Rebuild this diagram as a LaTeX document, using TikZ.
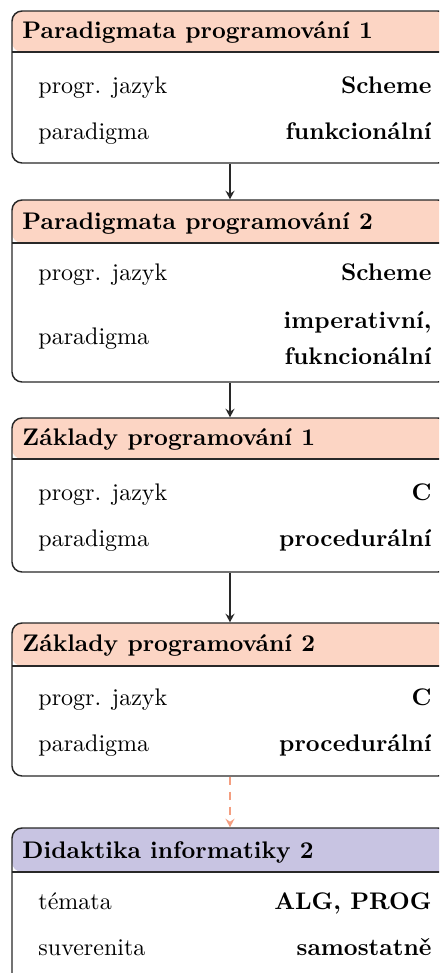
\documentclass[tikz,border=0pt]{standalone}
\usepackage{tikz}
\usetikzlibrary{arrows.meta}
\definecolor{hdrpeach}{RGB}{252,213,196}
\definecolor{hdrlav}{RGB}{200,196,226}
\definecolor{edgegray}{RGB}{40,40,40}
\definecolor{linksalmon}{RGB}{244,158,128}
\newcommand{\pxu}{0.41667pt}
\begin{document}
\begin{tikzpicture}[x=0.41667pt,y=-0.41667pt,
  card/.style n args={3}{rectangle, draw=edgegray, line width=0.6pt,
    rounded corners=4.2pt, fill=white,
    minimum width=436*\pxu, minimum height=#1*\pxu, inner sep=0pt,
    path picture={
      \fill[#3] (path picture bounding box.north west)
        rectangle ([yshift=-#2*\pxu]path picture bounding box.north east);
      \draw[edgegray, line width=0.6pt]
        ([yshift=-#2*\pxu]path picture bounding box.north west) --
        ([yshift=-#2*\pxu]path picture bounding box.north east);
    }},
  title/.style={anchor=base west, font=\bfseries, inner sep=0pt},
  key/.style={anchor=base west, inner sep=0pt},
  val/.style={anchor=base east, font=\bfseries, inner sep=0pt},
  tip/.style={-{Stealth[length=3.6pt,width=3.8pt,inset=1.3pt]}},
  link/.style={tip, edgegray, line width=0.8pt},
  weaklink/.style={tip, linksalmon, line width=0.8pt,
    dash pattern=on 8*\pxu off 7*\pxu}]
\useasboundingbox (0,0) rectangle (439,973);
\clip (0,0) rectangle (439,973);

% course cards
\node[card={152}{41}{hdrpeach}] (pp1) at (230,87) {};
\node[card={182}{43}{hdrpeach}] (pp2) at (230,291) {};
\node[card={154}{41}{hdrpeach}] (zp1) at (230,495) {};
\node[card={153}{43}{hdrpeach}] (zp2) at (230,699.5) {};
\node[card={156}{44}{hdrlav}]   (di2) at (230,906) {};

% Paradigmata programovani 1
\node[title] (pp1t) at (22,38) {Paradigmata programování 1};
\node[key] (pp1k1) at (38,93) {progr. jazyk};
\node[val] (pp1v1) at (432,93) {Scheme};
\node[key] (pp1k2) at (38,139) {paradigma};
\node[val] (pp1v2) at (432,139) {funkcionální};

% Paradigmata programovani 2
\node[title] (pp2t) at (22,229) {Paradigmata programování 2};
\node[key] (pp2k1) at (38,280) {progr. jazyk};
\node[val] (pp2v1) at (432,280) {Scheme};
\node[key] (pp2k2) at (38,344) {paradigma};
\node[val] (pp2v2a) at (432,328) {imperativní,};
\node[val] (pp2v2b) at (432,364) {fukncionální};

% Zaklady programovani 1
\node[title] (zp1t) at (22,445) {Základy programování 1};
\node[key] (zp1k1) at (38,500) {progr. jazyk};
\node[val] (zp1v1) at (432,500) {C};
\node[key] (zp1k2) at (38,546) {paradigma};
\node[val] (zp1v2) at (432,546) {procedurální};

% Zaklady programovani 2
\node[title] (zp2t) at (22,651) {Základy programování 2};
\node[key] (zp2k1) at (38,705) {progr. jazyk};
\node[val] (zp2v1) at (432,705) {C};
\node[key] (zp2k2) at (38,751) {paradigma};
\node[val] (zp2v2) at (432,751) {procedurální};

% Didaktika informatiky 2
\node[title] (di2t) at (22,858) {Didaktika informatiky 2};
\node[key] (di2k1) at (38,909) {témata};
\node[val] (di2v1) at (432,909) {ALG, PROG};
\node[key] (di2k2) at (38,955) {suverenita};
\node[val] (di2v2) at (432,955) {samostatně};

% prerequisite links
\draw[link] (pp1.south) -- (pp2.north);
\draw[link] (pp2.south) -- (zp1.north);
\draw[link] (zp1.south) -- (zp2.north);
\draw[weaklink] (zp2.south) -- (di2.north);
\end{tikzpicture}
\end{document}
